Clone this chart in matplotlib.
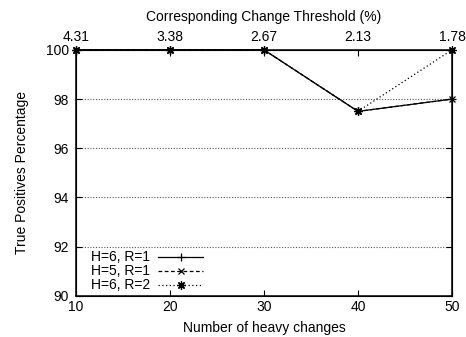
import matplotlib
matplotlib.use('Agg')
import matplotlib.pyplot as plt
from matplotlib.ticker import FixedLocator

plt.rcParams.update({
    "font.family": ["Liberation Sans", "DejaVu Sans"],
    "font.size": 10,
})

# data
heavy = [10, 20, 30, 40, 50]
thresholds = ["4.31", "3.38", "2.67", "2.13", "1.78"]
h6_r1 = [100, 100, 100, 97.5, 98]
h5_r1 = [100, 100, 100, 97.5, 98]
h6_r2 = [100, 100, 100, 97.5, 100]
y_ticks = [90, 92, 94, 96, 98, 100]

fig = plt.figure(figsize=(4.66, 3.37), dpi=100)
ax = fig.add_axes([0.163, 0.122, 0.807, 0.730])

for y in y_ticks[1:-1]:
    ax.axhline(y, color='#555555', linewidth=0.8, linestyle=(0, (1, 1.5)), zorder=1)

ax.plot(heavy, h6_r1, color='black', linewidth=0.9, marker='+', markersize=6,
        markeredgewidth=0.9, label='H=6, R=1', zorder=3, clip_on=False)
ax.plot(heavy, h5_r1, color='black', linewidth=0.9, linestyle=(0, (3, 2)), marker='x',
        markersize=4.5, markeredgewidth=0.9, label='H=5, R=1', zorder=3, clip_on=False)
ax.plot(heavy, h6_r2, color='black', linewidth=0.9, linestyle=(0, (1, 2)), marker=(8, 2, 0),
        markersize=6, markeredgewidth=0.9, label='H=6, R=2', zorder=3, clip_on=False)

ax.set_xlim(10, 50)
ax.set_ylim(90, 100)
ax.xaxis.set_major_locator(FixedLocator(heavy))
ax.yaxis.set_major_locator(FixedLocator(y_ticks))
ax.tick_params(direction='in', length=4, width=0.8, labelsize=10, pad=5, right=True)
ax.tick_params(axis='x', pad=3)
ax.set_xlabel('Number of heavy changes', fontsize=10, labelpad=5)
ax.set_ylabel('True Positives Percentage', fontsize=10, labelpad=12)
for spine in ax.spines.values():
    spine.set_linewidth(1.1)

top = ax.twiny()
top.set_xlim(ax.get_xlim())
top.xaxis.set_major_locator(FixedLocator(heavy))
top.set_xticklabels(thresholds)
top.tick_params(direction='in', length=4, width=0.8, labelsize=10, pad=4)
top.set_xlabel('Corresponding Change Threshold (%)', fontsize=10, labelpad=7)

ax.legend(loc='lower left', bbox_to_anchor=(0.03, 0.0), frameon=False, markerfirst=False,
          handlelength=3.2, handletextpad=0.6, labelspacing=0.0, fontsize=10,
          borderaxespad=0.0, borderpad=0.25)

fig.savefig('out.png', dpi=100)
